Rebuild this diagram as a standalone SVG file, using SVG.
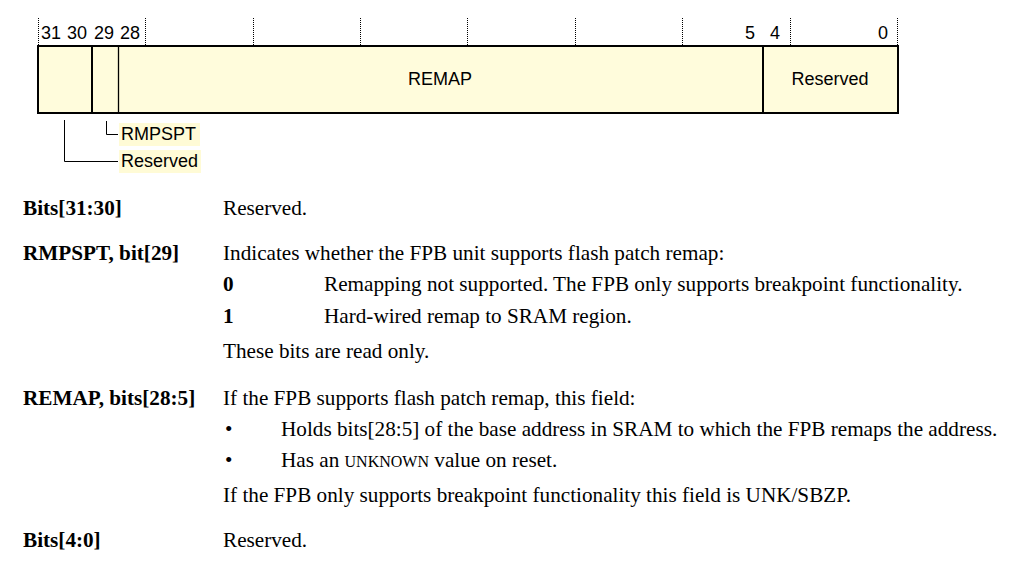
<svg xmlns="http://www.w3.org/2000/svg" width="1009" height="563" viewBox="0 0 1009 563">
<style>
.num{font-family:"Liberation Sans",Arial,sans-serif;font-size:18px;fill:#000}
.lbl{font-family:"Liberation Sans",Arial,sans-serif;font-size:18px;fill:#000}
.tick{stroke:#000;stroke-width:1;stroke-dasharray:1,1;fill:none}
.box{fill:#FFFCDC;stroke:#000;stroke-width:2}
.div{stroke:#000;stroke-width:2}
.lead{stroke:#000;stroke-width:1;fill:none}
.hl{fill:#FFFBD6}
.t{font-family:"Liberation Serif","Times New Roman",serif;font-size:21.2px;fill:#000}
.b{font-weight:bold}
.sc{font-size:16px}
</style>
<g id="ticks">
<path class="tick" d="M38.5,18V45M145.5,18V45M253.5,18V45M360.5,18V45M467.5,18V45M575.5,18V45M682.5,18V45M790.5,18V45M897.5,18V45"/>
</g>
<g id="bitnumbers">
<text class="num" x="41" y="39">31</text>
<text class="num" x="67" y="39">30</text>
<text class="num" x="94" y="39">29</text>
<text class="num" x="120" y="39">28</text>
<text class="num" x="745" y="39">5</text>
<text class="num" x="770" y="39">4</text>
<text class="num" x="878" y="39">0</text>
</g>
<g id="register">
<rect class="box" x="38" y="46" width="860" height="67"/>
<line class="div" x1="92" y1="46" x2="92" y2="113"/>
<line x1="118.5" y1="46" x2="118.5" y2="113" stroke="#000" stroke-width="1.3"/>
<line class="div" x1="763" y1="46" x2="763" y2="113"/>
</g>
<g id="field-remap"><text class="lbl" x="440" y="85" text-anchor="middle">REMAP</text></g>
<g id="field-reserved-low"><text class="lbl" x="830" y="85" text-anchor="middle">Reserved</text></g>
<g id="connectors">
<path class="lead" d="M106.5,121V134.5H118"/>
<path class="lead" d="M64.5,120V161.5H118"/>
</g>
<g id="label-rmpspt">
<rect class="hl" x="119" y="123" width="81" height="23"/>
<text class="lbl" x="121" y="140">RMPSPT</text>
</g>
<g id="label-reserved">
<rect class="hl" x="119" y="150" width="82" height="23"/>
<text class="lbl" x="121" y="167">Reserved</text>
</g>
<g id="descriptions">
<text class="t b" x="23" y="215">Bits[31:30]</text>
<text class="t" x="223" y="215">Reserved.</text>
<text class="t b" x="23" y="260">RMPSPT, bit[29]</text>
<text class="t" x="223" y="260">Indicates whether the FPB unit supports flash patch remap:</text>
<text class="t b" x="223" y="291">0</text>
<text class="t" x="324" y="291">Remapping not supported. The FPB only supports breakpoint functionality.</text>
<text class="t b" x="223" y="323">1</text>
<text class="t" x="324" y="323">Hard-wired remap to SRAM region.</text>
<text class="t" x="223" y="358">These bits are read only.</text>
<text class="t b" x="23" y="405">REMAP, bits[28:5]</text>
<text class="t" x="223" y="405">If the FPB supports flash patch remap, this field:</text>
<text class="t" x="225" y="436">•</text>
<text class="t" x="281" y="436">Holds bits[28:5] of the base address in SRAM to which the FPB remaps the address.</text>
<text class="t" x="225" y="467">•</text>
<text class="t" x="281" y="467">Has an <tspan class="sc">UNKNOWN</tspan> value on reset.</text>
<text class="t" x="223" y="502">If the FPB only supports breakpoint functionality this field is UNK/SBZP.</text>
<text class="t b" x="23" y="547">Bits[4:0]</text>
<text class="t" x="223" y="547">Reserved.</text>
</g>
</svg>
